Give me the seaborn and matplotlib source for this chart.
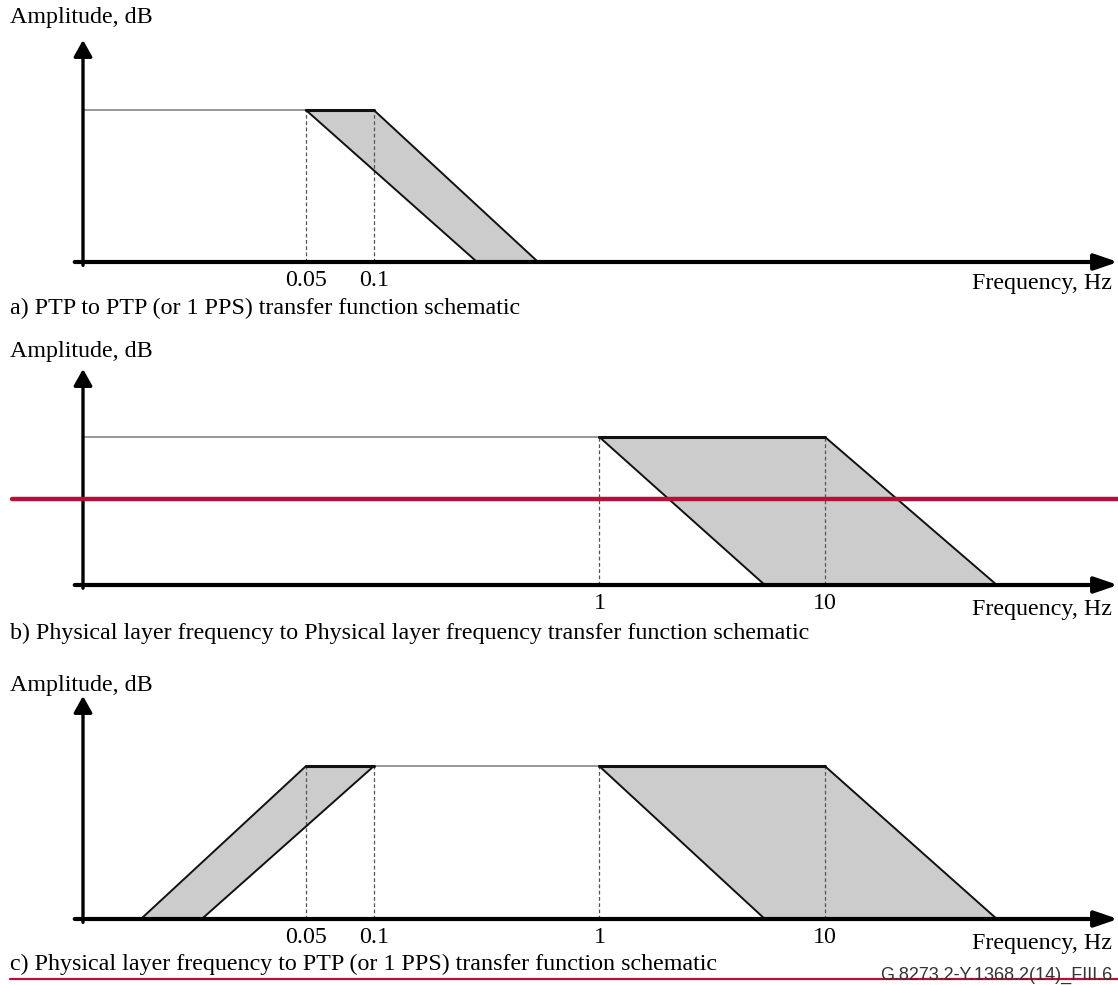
import numpy as np
import pandas as pd
import matplotlib
matplotlib.use("Agg")
import matplotlib.pyplot as plt
from matplotlib.lines import Line2D
from matplotlib.ticker import NullLocator, FixedLocator, FixedFormatter
import seaborn as sns

sns.set_theme(style="white")
plt.rcParams['font.family'] = ['Liberation Serif', 'DejaVu Serif']
plt.rcParams['text.color'] = 'black'

# ---------------- data ----------------
LEVEL = 1.0  # passband amplitude (schematic units)

# panel a) PTP to PTP
a_ticks = [0.05, 0.1]
a_tick_labels = ["0.05", "0.1"]
a_band_top = [0.05, 0.1]        # flat top of the band (left, right)
a_band_bottom = [0.287, 0.535]  # where the slopes reach the axis (left, right)
a_flat = [0.00515, 0.05]        # thin passband segment

# panel b) Physical layer to physical layer
b_ticks = [1, 10]
b_tick_labels = ["1", "10"]
b_band_top = [1, 10]
b_band_bottom = [5.41, 57.7]
b_flat = [0.00515, 1]

# panel c) Physical layer to PTP
c_ticks = [0.05, 0.1, 1, 10]
c_tick_labels = ["0.05", "0.1", "1", "10"]
c_hp_top = [0.05, 0.1]
c_hp_bottom = [0.0093, 0.0173]
c_lp_top = [1, 10]
c_lp_bottom = [5.41, 57.7]
c_flat = [0.1, 1]

captions = [
    "a) PTP to PTP (or 1 PPS) transfer function schematic",
    "b) Physical layer frequency to Physical layer frequency transfer function schematic",
    "c) Physical layer frequency to PTP (or 1 PPS) transfer function schematic",
]
y_label = "Amplitude, dB"
x_label = "Frequency, Hz"
footer = "G.8273.2-Y.1368.2(14)_FIII.6"

# ---------------- layout ----------------
W, H = 1118, 985
fig = plt.figure(figsize=(W / 100, H / 100), dpi=100)
FS = 17.3
XLIM = (0.00515, 198.6)
YTOP = 1.46

def fx(px):
    return px / W

def fy(py):
    return 1 - py / H

panels = [
    dict(axis=262, tip=40, amp_y=18, freq_y=283, cap_y=308,
         ticks=a_ticks, labels=a_tick_labels,
         bands=[(a_band_top, a_band_bottom)], flat=a_flat),
    dict(axis=585, tip=369, amp_y=352, freq_y=610, cap_y=633,
         ticks=b_ticks, labels=b_tick_labels,
         bands=[(b_band_top, b_band_bottom)], flat=b_flat),
    dict(axis=919, tip=696, amp_y=686, freq_y=943, cap_y=964,
         ticks=c_ticks, labels=c_tick_labels,
         bands=[(c_hp_top, c_hp_bottom), (c_lp_top, c_lp_bottom)], flat=c_flat),
]

left_px = 83
for i, p in enumerate(panels):
    ax = fig.add_axes([fx(left_px), fy(p["axis"]), fx(W - left_px),
                       (p["axis"] - p["tip"]) / H])
    ax.set_xscale("log")
    ax.set_xlim(*XLIM)
    ax.set_ylim(0, YTOP)
    for s in ax.spines.values():
        s.set_visible(False)
    ax.set_facecolor("none")
    ax.set_yticks([])
    ax.xaxis.set_major_locator(FixedLocator(p["ticks"]))
    ax.xaxis.set_major_formatter(FixedFormatter(p["labels"]))
    ax.xaxis.set_minor_locator(NullLocator())
    ax.tick_params(axis="x", length=0, pad=5.5, labelsize=FS, labelcolor="black")
    ax.grid(False)

    # thin passband segment
    flat_df = pd.DataFrame({"f": p["flat"], "amp": [LEVEL, LEVEL]})
    sns.lineplot(data=flat_df, x="f", y="amp", ax=ax, color="#7a7a7a",
                 lw=1.1, sort=False, estimator=None)

    # dashed markers at corner frequencies
    ax.vlines(p["ticks"], 0, LEVEL, colors="#555555", linestyles=(0, (3, 2)),
              lw=0.9, zorder=2)

    # shaded tolerance bands
    for top, bottom in p["bands"]:
        xs = [top[0], top[1], bottom[1], bottom[0]]
        ys = [LEVEL, LEVEL, 0, 0]
        ax.fill(xs, ys, color="#cccccc", zorder=1, lw=0)
        for a, b in [(top[0], bottom[0]), (top[1], bottom[1])]:
            edge = pd.DataFrame({"f": [a, b], "amp": [LEVEL, 0]})
            sns.lineplot(data=edge, x="f", y="amp", ax=ax, color="#111111",
                         lw=1.4, sort=False, estimator=None)
        topdf = pd.DataFrame({"f": top, "amp": [LEVEL, LEVEL]})
        sns.lineplot(data=topdf, x="f", y="amp", ax=ax, color="#111111",
                     lw=2.2, sort=False, estimator=None)

    ax.set_xlabel("")
    ax.set_ylabel("")

    # axes arrows
    ax.annotate("", xy=(0, 1), xytext=(0, -0.015), xycoords="axes fraction",
                arrowprops=dict(arrowstyle="-|>,head_length=0.5,head_width=0.28",
                                lw=2.4, color="black",
                                mutation_scale=20, shrinkA=0, shrinkB=0),
                annotation_clip=False)
    ax.annotate("", xy=(1.0, 0), xytext=(-0.008, 0), xycoords="axes fraction",
                arrowprops=dict(arrowstyle="-|>,head_length=0.7,head_width=0.24",
                                lw=3.0, color="black",
                                mutation_scale=20, shrinkA=0, shrinkB=0),
                annotation_clip=False)

    fig.text(fx(10), fy(p["amp_y"]), y_label, ha="left", va="center", fontsize=FS)
    fig.text(fx(1112), fy(p["freq_y"]), x_label, ha="right", va="center", fontsize=FS)
    fig.text(fx(10), fy(p["cap_y"]), captions[i], ha="left", va="center", fontsize=FS)

# footer and red marks
fig.text(fx(1112), fy(975), footer, ha="right", va="center", fontsize=13,
         color="#333333", family=["Liberation Sans", "DejaVu Sans"])
fig.add_artist(Line2D([fx(12), 1.0], [fy(499), fy(499)], color="#b80f3a", lw=3.2))
fig.add_artist(Line2D([fx(10), 1.0], [fy(979), fy(979)], color="#b80f3a", lw=1.6))

fig.savefig("out.png", dpi=100, facecolor="white")
